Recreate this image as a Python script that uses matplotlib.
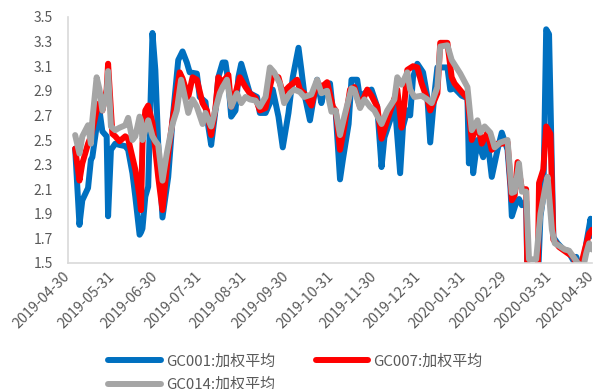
import numpy as np
import pandas as pd
import matplotlib
matplotlib.use("Agg")
import matplotlib.pyplot as plt
import matplotlib.dates as mdates

plt.rcParams['font.family'] = ['Noto Sans CJK SC', 'DejaVu Sans']

START = pd.Timestamp('2019-04-30')

# calendar days after 2019-04-30 and weighted average repo rates (%)
gc001_days = [5, 8, 10, 14, 16, 17, 20, 22, 24, 27, 28, 30, 33, 36, 40, 42, 45, 47, 50, 51,
              52, 54, 56, 59, 61, 63, 66, 70, 73, 77, 80, 83, 85, 90, 92, 96, 98, 100, 103, 105,
              108, 110, 112, 114, 117, 119, 121, 124, 127, 132, 134, 138, 141, 143, 147, 150, 154, 157, 161, 163,
              165, 169, 171, 174, 177, 179, 183, 185, 187, 190, 192, 196, 198, 202, 204, 207, 212, 216, 219, 221,
              225, 228, 232, 234, 237, 239, 241, 244, 248, 251, 253, 256, 258, 265, 267, 270, 275, 279, 280, 282,
              283, 286, 290, 293, 296, 300, 303, 307, 309, 310, 313, 315, 317, 320, 321, 328, 330, 332, 334, 336,
              339, 342, 346, 349, 353, 355, 359, 362, 365, 366]
gc001 = [2.43, 1.81, 2.01, 2.11, 2.34, 2.36, 2.61, 2.74, 2.57, 2.53, 1.88, 2.42, 2.47, 2.46, 2.45, 2.42, 2.23, 2.04, 1.73, 1.75,
         1.78, 2.04, 2.12, 3.37, 3.07, 2.47, 1.87, 2.20, 2.66, 3.15, 3.22, 3.13, 3.05, 3.04, 2.85, 2.81, 2.61, 2.46, 2.74, 3.01,
         3.13, 3.13, 2.97, 2.69, 2.74, 3.01, 3.12, 3.00, 2.88, 2.85, 2.72, 2.72, 2.80, 2.91, 2.69, 2.44, 2.72, 3.01, 3.25, 3.07,
         2.88, 2.66, 2.80, 2.99, 2.80, 2.91, 2.96, 2.74, 2.72, 2.18, 2.34, 2.63, 2.99, 2.99, 2.83, 2.88, 2.91, 2.77, 2.28, 2.52,
         2.66, 2.83, 2.23, 2.61, 2.74, 2.70, 3.01, 3.12, 3.05, 2.85, 2.48, 2.88, 3.09, 3.09, 2.91, 2.92, 2.86, 2.84, 2.31, 2.52,
         2.23, 2.50, 2.36, 2.50, 2.20, 2.42, 2.56, 2.42, 2.12, 1.88, 1.99, 2.02, 1.97, 2.00, 1.30, 1.30, 1.88, 2.04, 3.40, 3.36,
         1.71, 1.66, 1.61, 1.60, 1.52, 1.55, 1.40, 1.66, 1.86, 1.72]

gc007_days = [5, 8, 10, 14, 16, 17, 20, 22, 24, 27, 28, 30, 31, 33, 36, 40, 42, 45, 47, 50,
              51, 52, 54, 56, 59, 61, 63, 66, 70, 73, 78, 80, 84, 87, 90, 94, 97, 100, 103, 105,
              108, 112, 114, 117, 120, 124, 127, 131, 134, 138, 141, 143, 147, 150, 154, 160, 162, 165, 170, 174,
              177, 181, 185, 187, 190, 193, 197, 200, 204, 209, 212, 216, 219, 223, 227, 230, 233, 235, 237, 241,
              244, 247, 251, 253, 258, 260, 265, 268, 270, 275, 279, 282, 286, 289, 293, 296, 300, 303, 307, 310,
              312, 314, 317, 320, 321, 328, 329, 332, 334, 337, 339, 343, 349, 353, 357, 361, 364, 366]
gc007 = [2.43, 2.17, 2.31, 2.47, 2.53, 2.58, 2.74, 2.80, 2.74, 2.91, 3.12, 2.74, 2.55, 2.53, 2.49, 2.53, 2.51, 2.36, 2.26, 2.04,
         1.93, 2.47, 2.74, 2.78, 2.64, 2.42, 2.20, 1.93, 2.39, 2.66, 3.05, 3.00, 2.85, 3.01, 2.99, 2.80, 2.74, 2.54, 2.76, 3.01,
         2.97, 3.03, 2.77, 2.88, 3.01, 2.93, 2.88, 2.84, 2.74, 2.76, 2.93, 3.03, 3.01, 2.88, 2.93, 2.99, 2.91, 2.88, 2.78, 2.97,
         2.93, 2.97, 2.77, 2.74, 2.42, 2.61, 2.91, 2.93, 2.77, 2.91, 2.86, 2.77, 2.51, 2.66, 2.80, 2.91, 2.60, 2.80, 3.07, 3.10,
         3.09, 2.96, 2.83, 2.74, 2.88, 3.29, 3.29, 3.01, 2.96, 2.89, 2.84, 2.50, 2.63, 2.47, 2.56, 2.42, 2.47, 2.47, 2.48, 2.01,
         2.05, 2.32, 2.10, 2.10, 1.30, 1.30, 2.15, 2.26, 2.61, 2.55, 1.69, 1.63, 1.58, 1.55, 1.42, 1.61, 1.74, 1.77]

gc014_days = [5, 8, 10, 14, 16, 17, 20, 22, 24, 27, 28, 30, 33, 36, 40, 42, 45, 47, 50, 51,
              52, 54, 56, 59, 61, 63, 66, 69, 73, 76, 79, 82, 84, 87, 90, 94, 96, 100, 103, 106,
              108, 111, 114, 118, 121, 124, 127, 131, 134, 138, 141, 144, 148, 151, 155, 158, 162, 165, 170, 174,
              177, 181, 184, 187, 190, 193, 198, 200, 204, 207, 211, 214, 219, 223, 228, 230, 233, 237, 239, 242,
              247, 251, 254, 258, 260, 265, 268, 274, 279, 282, 286, 288, 291, 295, 298, 302, 307, 310, 312, 315,
              317, 320, 322, 327, 330, 333, 335, 338, 340, 343, 347, 350, 353, 356, 360, 362, 364, 366]
gc014 = [2.54, 2.39, 2.53, 2.62, 2.47, 2.66, 3.01, 2.91, 2.74, 2.88, 3.06, 2.61, 2.58, 2.60, 2.62, 2.68, 2.50, 2.53, 2.69, 2.66,
         2.50, 2.58, 2.66, 2.53, 2.49, 2.46, 2.17, 2.39, 2.63, 2.74, 2.99, 2.83, 2.72, 2.83, 2.77, 2.63, 2.72, 2.61, 2.75, 2.88,
         2.93, 2.99, 2.77, 2.88, 2.80, 2.85, 2.83, 2.82, 2.77, 2.85, 3.09, 3.05, 2.96, 2.80, 2.88, 2.91, 2.89, 2.85, 2.87, 2.99,
         2.88, 2.90, 2.73, 2.74, 2.54, 2.69, 2.92, 2.91, 2.76, 2.83, 2.77, 2.74, 2.63, 2.74, 2.83, 3.01, 2.95, 3.05, 2.91, 2.85,
         2.86, 2.83, 2.80, 2.93, 3.26, 3.27, 3.15, 3.04, 2.93, 2.58, 2.66, 2.56, 2.61, 2.56, 2.44, 2.48, 2.50, 2.07, 2.08, 2.31,
         2.08, 2.08, 1.53, 1.53, 1.90, 2.09, 2.20, 1.77, 1.66, 1.64, 1.61, 1.60, 1.55, 1.50, 1.47, 1.58, 1.66, 1.61]

labels = ['GC001:加权平均', 'GC007:加权平均', 'GC014:加权平均']
colors = ['#0070C0', '#FF0000', '#A5A5A5']
tick_dates = ['2019-04-30', '2019-05-31', '2019-06-30', '2019-07-31', '2019-08-31', '2019-09-30',
              '2019-10-31', '2019-11-30', '2019-12-31', '2020-01-31', '2020-02-29', '2020-03-31',
              '2020-04-30']
y_ticks = [1.5, 1.7, 1.9, 2.1, 2.3, 2.5, 2.7, 2.9, 3.1, 3.3, 3.5]


def to_dates(days):
    return START + pd.to_timedelta(days, unit='D')


fig = plt.figure(figsize=(6.04, 3.89), dpi=100)
ax = fig.add_axes([68 / 604, 1 - 263 / 389, 524 / 604, 246 / 389])

series = [(gc001_days, gc001), (gc007_days, gc007), (gc014_days, gc014)]
handles = []
for (d, v), lab, c in zip(series, labels, colors):
    h, = ax.plot(to_dates(d), v, color=c, lw=4.3, label=lab,
                 solid_joinstyle='round', solid_capstyle='round')
    handles.append(h)

ax.set_ylim(1.5, 3.5)
ax.set_yticks(y_ticks)
ax.set_yticklabels([f'{t:.1f}' for t in y_ticks])
ax.set_xlim(pd.Timestamp(tick_dates[0]), pd.Timestamp(tick_dates[-1]))
ax.set_xticks(pd.to_datetime(tick_dates))
ax.set_xticklabels(tick_dates, rotation=45, ha='right', va='center', rotation_mode='anchor')

for side in ('top', 'right'):
    ax.spines[side].set_visible(False)
for side in ('left', 'bottom'):
    ax.spines[side].set_color('#D9D9D9')
    ax.spines[side].set_linewidth(1.2)

ax.tick_params(axis='y', length=0, pad=11, labelsize=10, labelcolor='#595959')
ax.tick_params(axis='x', length=0, pad=8, labelsize=10.3, labelcolor='#595959')

leg = fig.legend([handles[0], handles[2], handles[1]],
                 [labels[0], labels[2], labels[1]],
                 ncol=2, loc='upper left', bbox_to_anchor=(108 / 604, 1 - 354 / 389),
                 frameon=False, fontsize=10.8, handlelength=3.5, handletextpad=0.35,
                 columnspacing=2.7, labelspacing=0.6, borderpad=0, borderaxespad=0)
for t in leg.get_texts():
    t.set_color('#595959')

fig.savefig('out.png', dpi=100)
